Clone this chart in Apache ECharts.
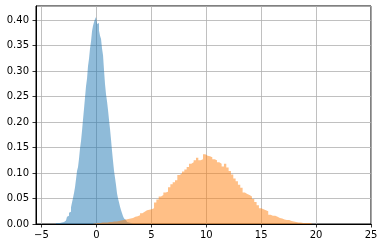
<!DOCTYPE html>
<html><head><meta charset="utf-8">
<script src="https://cdn.jsdelivr.net/npm/echarts@6/dist/echarts.min.js"></script>
<style>html,body{margin:0;padding:0;background:#fff}#c{width:384px;height:248px}</style>
</head><body><div id="c"></div>
<script>
// Blue histogram (density), first bin left edge and bin width
var blueStart = -3.679;
var blueWidth = 0.0911;
var blueValues = [
0.002,0.002,0.002,0.002,0.003,0.003,0.003,0.004,0.005,0.007,
0.009,0.014,0.016,0.022,0.024,0.033,0.042,0.051,0.061,0.072,
0.088,0.104,0.112,0.128,0.148,0.163,0.183,0.205,0.226,0.248,
0.270,0.285,0.310,0.324,0.344,0.358,0.378,0.389,0.396,0.402,
0.406,0.392,0.394,0.379,0.369,0.363,0.344,0.331,0.301,0.274,
0.254,0.240,0.223,0.204,0.186,0.165,0.143,0.123,0.104,0.090,
0.076,0.060,0.050,0.042,0.034,0.027,0.021,0.015,0.011,0.008,
0.006,0.004,0.003,0.003,0.002,0.002,0.001,0.001];
// Orange histogram (density)
var orangeStart = -0.271;
var orangeWidth = 0.2122;
var orangeValues = [
0.001,0.002,0.002,0.003,0.003,0.003,0.004,0.004,0.005,0.005,
0.006,0.007,0.008,0.009,0.010,0.011,0.012,0.014,0.015,0.017,
0.021,0.024,0.027,0.028,0.029,0.031,0.042,0.048,0.054,0.057,
0.062,0.063,0.072,0.078,0.082,0.086,0.096,0.099,0.103,0.107,
0.112,0.118,0.121,0.125,0.130,0.125,0.127,0.137,0.134,0.133,
0.131,0.127,0.125,0.121,0.118,0.113,0.118,0.111,0.104,0.097,
0.089,0.084,0.077,0.071,0.062,0.059,0.057,0.054,0.049,0.043,
0.037,0.031,0.029,0.027,0.025,0.018,0.016,0.016,0.014,0.012,
0.011,0.009,0.008,0.008,0.006,0.005,0.004,0.003,0.003,0.002,
0.002,0.002,0.002,0.002];
var xTicks = [-5,0,5,10,15,20,25];
var yTicks = [0,0.05,0.10,0.15,0.20,0.25,0.30,0.35,0.40];

function stepData(start, width, vals){
  var d = [];
  for (var i=0;i<vals.length;i++) d.push([start+i*width, vals[i]]);
  d.push([start+vals.length*width, vals[vals.length-1]]);
  return d;
}
var font = 'DejaVu Sans';
var chart = echarts.init(document.getElementById('c'), null, {renderer:'canvas'});
chart.setOption({
  animation:false,
  backgroundColor:'#fff',
  grid:{left:36,right:13,top:6,bottom:24,show:true,borderColor:'#000',borderWidth:1,backgroundColor:'transparent'},
  xAxis:{type:'value',min:-5.5,max:25,
    axisLine:{show:true,onZero:false,lineStyle:{color:'#000',width:1}},
    axisTick:{show:true,inside:false,length:3.5,lineStyle:{color:'#000',width:0.8}},
    axisLabel:{show:true,margin:6,color:'#000',fontFamily:font,fontSize:10,showMinLabel:false,
      formatter:function(v){return xTicks.indexOf(v)>=0 ? (v<0?'\u2212'+(-v):String(v)) : '';}},
    splitLine:{show:true,lineStyle:{color:'#b0b0b0',width:0.8}}},
  yAxis:{type:'value',min:0,max:0.4275,interval:0.05,
    axisLine:{show:true,onZero:false,lineStyle:{color:'#000',width:1}},
    axisTick:{show:true,inside:false,length:3.5,lineStyle:{color:'#000',width:0.8}},
    axisLabel:{show:true,margin:7,color:'#000',fontFamily:font,fontSize:10,showMaxLabel:false,
      formatter:function(v){for(var i=0;i<yTicks.length;i++){if(Math.abs(v-yTicks[i])<1e-9)return yTicks[i].toFixed(2);}return '';}},
    splitLine:{show:true,lineStyle:{color:'#b0b0b0',width:0.8}}},
  series:[
    {type:'line',step:'end',symbol:'none',data:stepData(blueStart,blueWidth,blueValues),
     lineStyle:{width:0,opacity:0},areaStyle:{color:'rgba(31,119,180,0.5)',opacity:1},z:2},
    {type:'line',step:'end',symbol:'none',data:stepData(orangeStart,orangeWidth,orangeValues),
     lineStyle:{width:0,opacity:0},areaStyle:{color:'rgba(255,127,14,0.5)',opacity:1},z:3}
  ]
});
</script></body></html>
